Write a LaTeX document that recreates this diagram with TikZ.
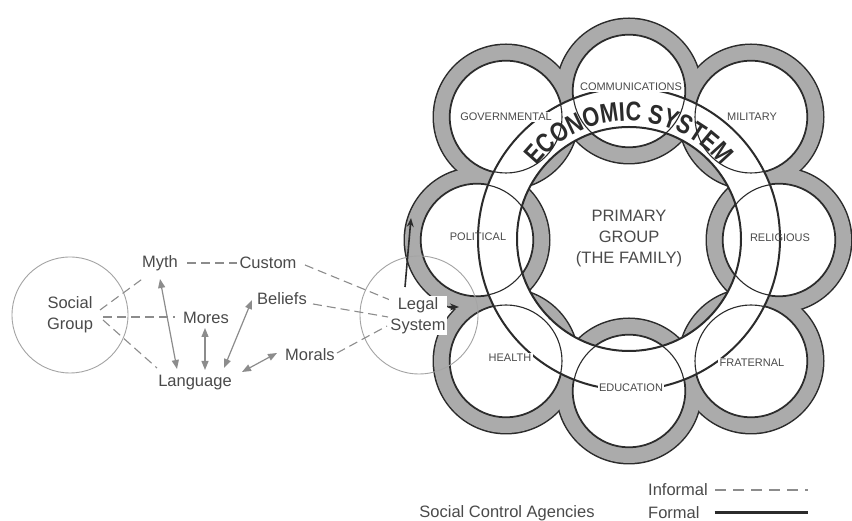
\documentclass[tikz,border=0pt]{standalone}
\usepackage{fontspec}
\setmainfont{Liberation Sans}
\newfontfamily\econfont{Liberation Sans}[FakeStretch=0.8]
\usetikzlibrary{arrows.meta,decorations.text}
\definecolor{ink}{HTML}{2B2B2B}
\definecolor{ringgrey}{HTML}{ABABAB}
\definecolor{txt}{HTML}{4A4A4A}
\definecolor{soft}{HTML}{8C8C8C}
\definecolor{circ}{HTML}{A4A4A4}
\begin{document}
\begin{tikzpicture}[x=1pt,y=1pt,
  lab/.style={font=\fontsize{16.5}{21}\selectfont, text=txt, inner sep=1pt, align=center},
  agency/.style={font=\fontsize{11}{12}\selectfont, text=txt, inner sep=1.5pt},
  informal/.style={draw=soft, line width=1.1pt, dash pattern=on 9pt off 5pt},
  dar/.style={draw=soft, line width=1.2pt, {Triangle[length=9pt,width=7pt]}-{Triangle[length=9pt,width=7pt]}},
  formal/.style={draw=ink, line width=1.6pt, -{Stealth[length=9pt,width=7pt]}},
  soccirc/.style={circle, draw=circ, line width=0.9pt, inner sep=0pt},
]
\useasboundingbox (0,0) rectangle (852,521);
\fill[white] (0,0) rectangle (852,521);

% centres of the agency circles and of the economic system
\coordinate (gov) at (506,404);
\coordinate (com) at (629,430);
\coordinate (mil) at (751,404);
\coordinate (pol) at (477,281);
\coordinate (rel) at (779,281);
\coordinate (hea) at (506,160);
\coordinate (edu) at (629,130);
\coordinate (fra) at (751,160);
\coordinate (econ) at (629,282);

% rings
\foreach \n in {gov,com,mil,pol,rel,hea,edu,fra}
  \draw[ink,line width=3pt] (\n) circle[radius=72pt];
\foreach \n in {gov,com,mil,pol,rel,hea,edu,fra}
  \fill[ringgrey] (\n) circle[radius=72pt];
\foreach \n in {gov,com,mil,pol,rel,hea,edu,fra}
  \draw[ink,line width=2.4pt] (\n) circle[radius=56pt];
\foreach \n in {gov,com,mil,pol,rel,hea,edu,fra}
  \fill[white] (\n) circle[radius=56pt];
% economic system band
\fill[white,even odd rule] (econ) circle[radius=151pt] (econ) circle[radius=112pt];
\foreach \n in {gov,com,mil,pol,rel,hea,edu,fra}
  \draw[ink,line width=1.1pt] (\n) circle[radius=56pt];
\draw[ink,line width=2pt] (econ) circle[radius=151pt];
\draw[ink,line width=2pt] (econ) circle[radius=112pt];

% agency labels
\node[agency,fill=white] (lcom) at (631,434) {COMMUNICATIONS};
\node[agency,fill=white] (lgov) at (506,404) {GOVERNMENTAL};
\node[agency,fill=white] (lmil) at (752,404) {MILITARY};
\node[agency] (lpol) at (478,284) {POLITICAL};
\node[agency] (lrel) at (780,283) {RELIGIOUS};
\node[agency,fill=white] (lhea) at (510,163) {HEALTH};
\node[agency,fill=white] (ledu) at (631,133) {EDUCATION};
\node[agency,fill=white] (lfra) at (752,158) {FRATERNAL};
\node[lab] (prim) at (629,282) {PRIMARY\\GROUP\\(THE FAMILY)};

\path[decorate,decoration={text along path,text align=center,
  text={|\econfont\bfseries\fontsize{27}{27}\selectfont\color{ink}|ECONOMIC SYSTEM}}]
  (econ) ++(150:118pt) arc[start angle=150,end angle=30,radius=118pt];

% left part
\node[soccirc,minimum size=116pt] (sgc) at (70,206) {};
\node[lab] (sg) at (70,206.5) {Social\\Group};
\node[lab] (myth) at (160,258) {Myth};
\node[lab] (custom) at (268,258) {Custom};
\node[lab] (mores) at (206,203) {Mores};
\node[lab] (beliefs) at (282,222) {Beliefs};
\node[lab] (lang) at (195,138) {Language};
\node[lab] (morals) at (310,166) {Morals};
\node[soccirc,minimum size=118pt] (lsc) at (419,206) {};

\draw[informal] ([shift={(30,4.5)}]sg.center) -- ([shift={(-15,-14)}]myth.center);
\draw[informal] ([shift={(33,-2.5)}]sg.center) -- ([shift={(-31,1)}]mores.center);
\draw[informal] ([shift={(33,-5.5)}]sg.center) -- ([shift={(-38,15)}]lang.center);
\draw[informal] ([shift={(27,0)}]myth.center) -- ([shift={(-31,0)}]custom.center);
\draw[informal] ([shift={(37,-2)}]custom.center) -- ([shift={(-23,13.5)}]418,205.5);
\draw[informal] ([shift={(31,-5)}]beliefs.center) -- ([shift={(-30,-1.5)}]418,205.5);
\draw[informal] ([shift={(27,2)}]morals.center) -- ([shift={(-31,-10.5)}]418,205.5);

\draw[dar] ([shift={(0,-16)}]myth.center) -- ([shift={(-18,14)}]lang.center);
\draw[dar] ([shift={(-1,-10)}]mores.center) -- ([shift={(10,13)}]lang.center);
\draw[dar] ([shift={(-30,-1)}]beliefs.center) -- ([shift={(29,15)}]lang.center);
\draw[dar] ([shift={(-33,2)}]morals.center) -- ([shift={(47,11)}]lang.center);

\node[lab,fill=white] (legal) at (418,205.5) {Legal\\System};
\coordinate (polin) at (411,303);
\coordinate (heain) at (459,214);
\draw[formal] ([shift={(-13,28.5)}]legal.center) -- (polin);
\draw[formal] ([shift={(31,8.5)}]legal.center) -- (heain);

% legend
\node[lab,anchor=west] (inf) at (647,31) {Informal};
\coordinate (infb) at (808,31);
\draw[informal,dash pattern=on 11pt off 7pt] ([xshift=6pt]inf.east) -- (infb);
\node[lab,anchor=west] (frm) at (647,8) {Formal};
\coordinate (frmb) at (808,8);
\draw[ink,line width=3pt] ([xshift=14pt]frm.east) -- (frmb);
\node[lab] (sca) at (507,8) {Social Control Agencies};
\end{tikzpicture}
\end{document}
